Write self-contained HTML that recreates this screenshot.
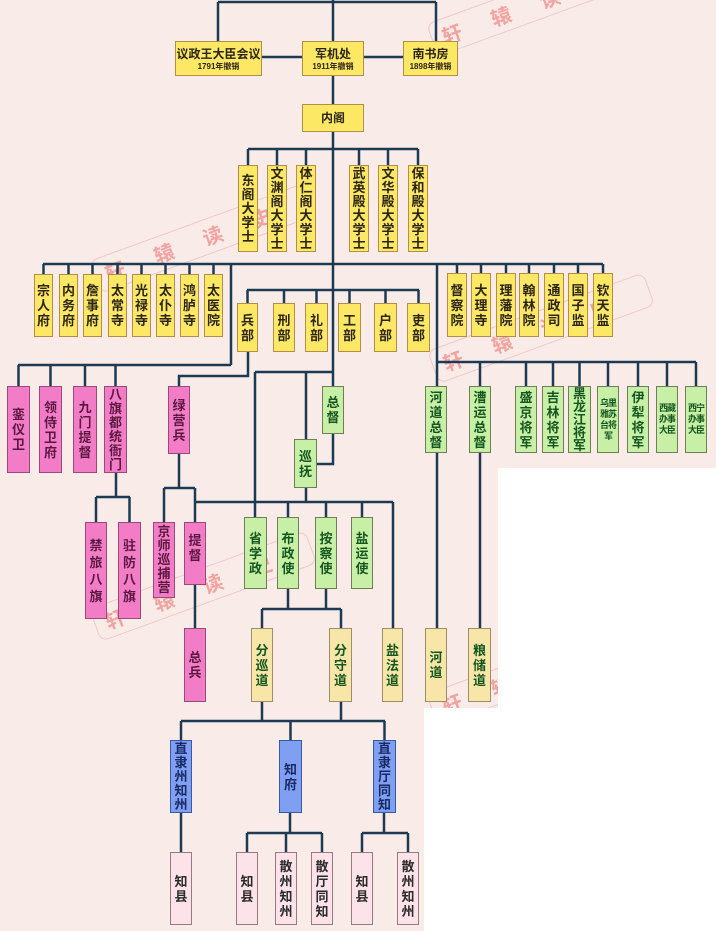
<!DOCTYPE html>
<html><head><meta charset="utf-8">
<style>
html,body{margin:0;padding:0;}
body{width:716px;height:931px;position:relative;overflow:hidden;background:#f9ece8;font-family:"Liberation Sans","Noto Sans CJK SC",sans-serif;}
.b{position:absolute;box-sizing:border-box;border:1.5px solid;display:flex;flex-direction:column;align-items:center;justify-content:center;text-align:center;font-weight:bold;font-size:13px;line-height:15px;}
.y{background:#fde865;border-color:#b38e48;color:#2b2418;}
.p{background:#f27cc6;border-color:#9a4a78;color:#5a1840;}
.g{background:#c8efa6;border-color:#6f7e58;color:#14561f;}
.ly{background:#f7e6a8;border-color:#9c8e68;color:#14561f;}
.bl{background:#7f9ff2;border-color:#3a5aa0;color:#1a2a66;}
.lp{background:#fce3ea;border-color:#9a7880;color:#2a2a2a;}
.sm{font-size:8px;line-height:10px;font-weight:bold;}
.wm{position:absolute;color:rgba(232,90,90,0.5);font-size:20px;font-weight:bold;letter-spacing:32px;border:1px solid rgba(220,120,120,0.3);border-radius:8px;padding:2px 10px;transform-origin:0 0;transform:rotate(-20deg);white-space:nowrap;}
.white{position:absolute;background:#ffffff;}
</style></head><body>

<div class="wm" style="left:426px;top:24px;">轩辕读史</div>
<div class="wm" style="left:89px;top:261px;">轩辕读史</div>
<div class="wm" style="left:427px;top:351px;">轩辕读史</div>
<div class="wm" style="left:89px;top:609px;">轩辕读史</div>
<div class="wm" style="left:426px;top:694px;">轩辕读史</div>

<div class="white" style="left:498px;top:468px;width:218px;height:463px;"></div>
<div class="white" style="left:424px;top:708px;width:292px;height:223px;"></div>

<svg width="716" height="931" style="position:absolute;left:0;top:0;" fill="none" stroke="#1d3a55" stroke-width="2.5">
<path d="M218 2H436M218 2V41M436 2V41M333 0V41
M262 57H302M364 57H403
M333 76V104M333 132V386
M248 149H418M248 149V165M277 149V165M306 149V165M359 149V165M388 149V165M418 149V165
M43 264H603
M43.5 264V274M68.5 264V274M92.5 264V274M117.5 264V274M141.5 264V274M165.5 264V274M189.5 264V274M213.5 264V274
M457 264V274M481 264V274M506 264V274M529 264V274M554 264V274M578 264V274M603 264V274
M231 264V365M18 365H231M18.5 365V386M50.5 365V386M85 365V386M115.5 365V386
M437 264V386M437 453V628
M437 362H696M480 362V386M526 362V386M553 362V386M579.5 362V386M608 362V386M638 362V386M667 362V386M696 362V386
M480 453V628
M247 290H419M247.5 290V303M284 290V303M316.5 290V303M349.5 290V303M385.5 290V303M418.5 290V303
M248 352V376H179V386
M179 454V488M164 488H195M164 488V522M195 488V522M195 585V628
M195 502H393M393 502V628
M255 372H333M255 372V517M306 372V439
M333 434V464H317
M306 488V502
M288 502V517M326 502V517M362 502V517
M288 589V609M326 589V609M262 609H341M262 609V628M341 609V628
M262 702V721M341 702V721M181 721H385M181 721V740M290.5 721V740M384.5 721V740
M181 813V852M290 813V833M247 833H322M247 833V852M286 833V852M322 833V852
M384 813V833M362 833H408M362 833V852M408 833V852
M116 473V497M96 497H130M96 497V522M129.5 497V522"/>
</svg>

<!-- top -->
<div class="b y" style="left:175px;top:41px;width:87px;height:35px;font-size:12px;line-height:16px;">议政王大臣会议<span class="sm">1791年撤销</span></div>
<div class="b y" style="left:302px;top:41px;width:62px;height:35px;font-size:12px;line-height:16px;">军机处<span class="sm">1911年撤销</span></div>
<div class="b y" style="left:403px;top:41px;width:55px;height:35px;font-size:12px;line-height:16px;">南书房<span class="sm">1898年撤销</span></div>
<div class="b y" style="left:302px;top:104px;width:62px;height:28px;font-size:12px;">内阁</div>

<!-- grand secretaries -->
<div class="b y" style="left:238px;top:165px;width:20px;height:87px;line-height:14px;">东<br>阁<br>大<br>学<br>士</div>
<div class="b y" style="left:267px;top:165px;width:20px;height:87px;line-height:14px;">文<br>渊<br>阁<br>大<br>学<br>士</div>
<div class="b y" style="left:296px;top:165px;width:20px;height:87px;line-height:14px;">体<br>仁<br>阁<br>大<br>学<br>士</div>
<div class="b y" style="left:349px;top:165px;width:20px;height:87px;line-height:14px;">武<br>英<br>殿<br>大<br>学<br>士</div>
<div class="b y" style="left:378px;top:165px;width:20px;height:87px;line-height:14px;">文<br>华<br>殿<br>大<br>学<br>士</div>
<div class="b y" style="left:408px;top:165px;width:20px;height:87px;line-height:14px;">保<br>和<br>殿<br>大<br>学<br>士</div>

<!-- left 8 -->
<div class="b y" style="left:34px;top:274px;width:19px;height:63px;">宗<br>人<br>府</div>
<div class="b y" style="left:59px;top:274px;width:19px;height:63px;">内<br>务<br>府</div>
<div class="b y" style="left:83px;top:274px;width:19px;height:63px;">詹<br>事<br>府</div>
<div class="b y" style="left:108px;top:274px;width:19px;height:63px;">太<br>常<br>寺</div>
<div class="b y" style="left:132px;top:274px;width:19px;height:63px;">光<br>禄<br>寺</div>
<div class="b y" style="left:156px;top:274px;width:19px;height:63px;">太<br>仆<br>寺</div>
<div class="b y" style="left:180px;top:274px;width:19px;height:63px;">鸿<br>胪<br>寺</div>
<div class="b y" style="left:204px;top:274px;width:19px;height:63px;">太<br>医<br>院</div>

<!-- six ministries -->
<div class="b y" style="left:237px;top:303px;width:21px;height:49px;">兵<br>部</div>
<div class="b y" style="left:273px;top:303px;width:22px;height:49px;">刑<br>部</div>
<div class="b y" style="left:305px;top:303px;width:23px;height:49px;">礼<br>部</div>
<div class="b y" style="left:338px;top:303px;width:23px;height:49px;">工<br>部</div>
<div class="b y" style="left:374px;top:303px;width:23px;height:49px;">户<br>部</div>
<div class="b y" style="left:407px;top:303px;width:23px;height:49px;">吏<br>部</div>

<!-- right 7 -->
<div class="b y" style="left:447px;top:273px;width:20px;height:64px;">督<br>察<br>院</div>
<div class="b y" style="left:471px;top:273px;width:20px;height:64px;">大<br>理<br>寺</div>
<div class="b y" style="left:496px;top:273px;width:20px;height:64px;">理<br>藩<br>院</div>
<div class="b y" style="left:519px;top:273px;width:20px;height:64px;">翰<br>林<br>院</div>
<div class="b y" style="left:544px;top:273px;width:20px;height:64px;">通<br>政<br>司</div>
<div class="b y" style="left:568px;top:273px;width:20px;height:64px;">国<br>子<br>监</div>
<div class="b y" style="left:593px;top:273px;width:20px;height:64px;">钦<br>天<br>监</div>

<!-- pink -->
<div class="b p" style="left:7px;top:386px;width:23px;height:87px;">銮<br>仪<br>卫</div>
<div class="b p" style="left:39px;top:386px;width:23px;height:87px;">领<br>侍<br>卫<br>府</div>
<div class="b p" style="left:73px;top:386px;width:24px;height:87px;">九<br>门<br>提<br>督</div>
<div class="b p" style="left:104px;top:386px;width:23px;height:87px;line-height:14px;">八<br>旗<br>都<br>统<br>衙<br>门</div>
<div class="b p" style="left:85px;top:522px;width:22px;height:97px;line-height:17px;">禁<br>旅<br>八<br>旗</div>
<div class="b p" style="left:118px;top:522px;width:23px;height:97px;line-height:17px;">驻<br>防<br>八<br>旗</div>
<div class="b p" style="left:168px;top:386px;width:22px;height:68px;">绿<br>营<br>兵</div>
<div class="b p" style="left:153px;top:522px;width:22px;height:76px;line-height:14px;">京<br>师<br>巡<br>捕<br>营</div>
<div class="b p" style="left:184px;top:522px;width:22px;height:63px;justify-content:flex-start;padding-top:10px;">提<br>督</div>
<div class="b p" style="left:184px;top:628px;width:22px;height:74px;">总<br>兵</div>

<!-- green middle -->
<div class="b g" style="left:322px;top:386px;width:22px;height:48px;">总<br>督</div>
<div class="b g" style="left:294px;top:439px;width:23px;height:49px;">巡<br>抚</div>
<div class="b g" style="left:244px;top:517px;width:23px;height:72px;">省<br>学<br>政</div>
<div class="b g" style="left:277px;top:517px;width:22px;height:72px;">布<br>政<br>使</div>
<div class="b g" style="left:315px;top:517px;width:22px;height:72px;">按<br>察<br>使</div>
<div class="b g" style="left:351px;top:517px;width:22px;height:72px;">盐<br>运<br>使</div>

<!-- green right -->
<div class="b g" style="left:425px;top:386px;width:22px;height:67px;">河<br>道<br>总<br>督</div>
<div class="b g" style="left:469px;top:386px;width:22px;height:67px;">漕<br>运<br>总<br>督</div>
<div class="b g" style="left:515px;top:386px;width:22px;height:67px;">盛<br>京<br>将<br>军</div>
<div class="b g" style="left:542px;top:386px;width:22px;height:67px;">吉<br>林<br>将<br>军</div>
<div class="b g" style="left:568px;top:386px;width:23px;height:67px;line-height:13px;">黑<br>龙<br>江<br>将<br>军</div>
<div class="b g" style="left:597px;top:386px;width:22px;height:67px;font-size:9px;line-height:11px;letter-spacing:-1px;">乌里<br>雅苏<br>台将<br>军</div>
<div class="b g" style="left:627px;top:386px;width:22px;height:67px;">伊<br>犁<br>将<br>军</div>
<div class="b g" style="left:656px;top:386px;width:22px;height:67px;font-size:9px;line-height:11px;letter-spacing:-1px;">西藏<br>办事<br>大臣</div>
<div class="b g" style="left:685px;top:386px;width:22px;height:67px;font-size:9px;line-height:11px;letter-spacing:-1px;">西宁<br>办事<br>大臣</div>

<!-- light yellow -->
<div class="b ly" style="left:251px;top:628px;width:22px;height:74px;">分<br>巡<br>道</div>
<div class="b ly" style="left:329px;top:628px;width:23px;height:74px;">分<br>守<br>道</div>
<div class="b ly" style="left:382px;top:628px;width:21px;height:74px;">盐<br>法<br>道</div>
<div class="b ly" style="left:425px;top:628px;width:22px;height:74px;">河<br>道</div>
<div class="b ly" style="left:468px;top:628px;width:23px;height:74px;">粮<br>储<br>道</div>

<!-- blue -->
<div class="b bl" style="left:170px;top:740px;width:22px;height:73px;line-height:14px;">直<br>隶<br>州<br>知<br>州</div>
<div class="b bl" style="left:279px;top:740px;width:23px;height:73px;">知<br>府</div>
<div class="b bl" style="left:373px;top:740px;width:23px;height:73px;line-height:14px;">直<br>隶<br>厅<br>同<br>知</div>

<!-- light pink -->
<div class="b lp" style="left:170px;top:852px;width:22px;height:73px;">知<br>县</div>
<div class="b lp" style="left:236px;top:852px;width:22px;height:73px;">知<br>县</div>
<div class="b lp" style="left:275px;top:852px;width:22px;height:73px;">散<br>州<br>知<br>州</div>
<div class="b lp" style="left:311px;top:852px;width:22px;height:73px;">散<br>厅<br>同<br>知</div>
<div class="b lp" style="left:351px;top:852px;width:22px;height:73px;">知<br>县</div>
<div class="b lp" style="left:397px;top:852px;width:22px;height:73px;">散<br>州<br>知<br>州</div>

</body></html>
